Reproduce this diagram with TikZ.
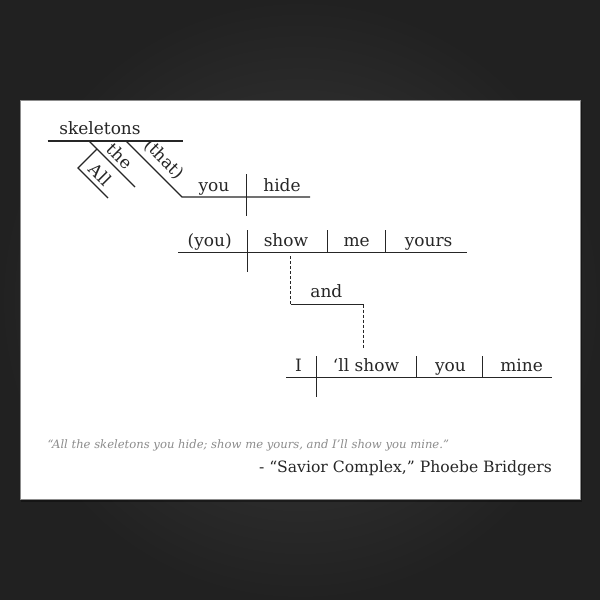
\documentclass[tikz,border=0pt]{standalone}
\usepackage{fontspec}
\setmainfont{DejaVu Serif}
\definecolor{ink}{HTML}{262626}
\definecolor{quotegray}{HTML}{8C8C8C}

\begin{document}
\begin{tikzpicture}[x=1pt,y=-1pt,
    word/.style={anchor=base,inner sep=0pt,text=ink,font=\fontsize{17}{20}\selectfont},
    slant/.style={word,anchor=center,rotate=-45},
    rule/.style={draw=ink,line width=1.3pt},
    link/.style={draw=ink,line width=1pt,dash pattern=on 3pt off 2pt}]

    % backdrop and card
    \useasboundingbox (0,0) rectangle (600,600);
    \shade[inner color=black!76,outer color=black!87] (0,0) rectangle (600,600);
    \fill[black,opacity=0.35] (21,102) rectangle (582,502);
    \fill[white,draw=black!45,line width=0.8pt] (20,100) rectangle (580,499);

    % line points
    \coordinate (s1) at (47.5,141);
    \coordinate (s2) at (182.5,141);
    \coordinate (t1) at (89,141);
    \coordinate (t2) at (135,187);
    \coordinate (a1) at (97,149);
    \coordinate (a2) at (78,168);
    \coordinate (a3) at (108,198);
    \coordinate (h1) at (126,141);
    \coordinate (h2) at (182,197);
    \coordinate (h3) at (310,197);
    \coordinate (d1) at (246.5,174);
    \coordinate (d2) at (246.5,215.5);
    \coordinate (m1) at (178,252.5);
    \coordinate (m2) at (467,252.5);
    \coordinate (e1) at (247.5,230);
    \coordinate (e2) at (247.5,272);
    \coordinate (e3) at (327.5,230);
    \coordinate (e4) at (327.5,252.5);
    \coordinate (e5) at (385.5,230);
    \coordinate (e6) at (385.5,252.5);
    \coordinate (c1) at (290.5,256);
    \coordinate (c2) at (290.5,304.5);
    \coordinate (c3) at (363.5,304.5);
    \coordinate (c4) at (363.5,347.5);
    \coordinate (n1) at (286,377.5);
    \coordinate (n2) at (552,377.5);
    \coordinate (f1) at (316.5,356);
    \coordinate (f2) at (316.5,396.5);
    \coordinate (f3) at (416.5,356);
    \coordinate (f4) at (416.5,377.5);
    \coordinate (f5) at (482.5,356);
    \coordinate (f6) at (482.5,377.5);

    % words
    \node[word] (skel) at (100,134.7) {skeletons};
    \node[slant] (the) at (120,156) {the};
    \node[slant] (all) at (100.5,174.5) {All};
    \node[slant] (that) at (164,159.5) {(that)};
    \node[word] (you1) at (214,191) {you};
    \node[word] (hide) at (282,191) {hide};
    \node[word] (you2) at (209.7,246) {(you)};
    \node[word] (show1) at (286,246) {show};
    \node[word] (me) at (356.7,246) {me};
    \node[word] (yours) at (428.6,246) {yours};
    \node[word] (and) at (326.4,297) {and};
    \node[word] (i) at (298.5,371) {I};
    \node[word] (show2) at (366,371) {‘ll show};
    \node[word] (you3) at (450.4,371) {you};
    \node[word] (mine) at (521.6,371) {mine};

    % diagram lines
    \draw[rule] (s1) to (s2);
    \draw[rule] (t1) to (t2);
    \draw[rule] (a1) -- (a2) -- (a3);
    \draw[rule] (h1) -- (h2) -- (h3);
    \draw[rule] (d1) to (d2);
    \draw[rule] (m1) to (m2);
    \draw[rule] (e1) to (e2);
    \draw[rule] (e3) to (e4);
    \draw[rule] (e5) to (e6);
    \draw[link] (c1) to (c2);
    \draw[rule] (c2) to (c3);
    \draw[link] (c3) to (c4);
    \draw[rule] (n1) to (n2);
    \draw[rule] (f1) to (f2);
    \draw[rule] (f3) to (f4);
    \draw[rule] (f5) to (f6);

    % caption
    \node[anchor=base west,inner sep=0pt,text=quotegray,font=\fontsize{11.6}{13}\selectfont\itshape] (quote) at (47.5,448)
        {“All the skeletons you hide; show me yours, and I’ll show you mine.”};
    \node[anchor=base east,inner sep=0pt,text=ink,font=\fontsize{15.6}{18}\selectfont] (credit) at (552,472.5)
        {- “Savior Complex,” Phoebe Bridgers};
\end{tikzpicture}
\end{document}
